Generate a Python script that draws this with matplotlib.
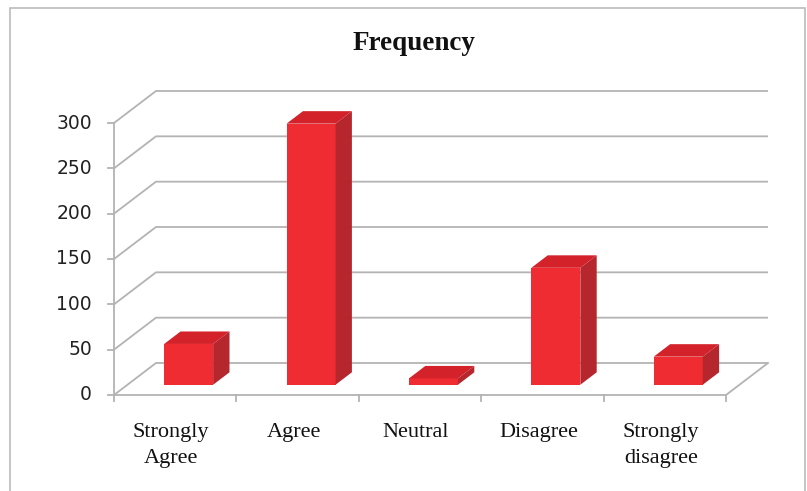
import matplotlib
matplotlib.use('Agg')
import matplotlib.pyplot as plt
from matplotlib.patches import Polygon, Rectangle

categories = ['Strongly\nAgree', 'Agree', 'Neutral', 'Disagree', 'Strongly\ndisagree']
frequency = [45, 288, 7, 129, 31]
y_ticks = [0, 50, 100, 150, 200, 250, 300]

W, H = 807, 491
# pixel scale of the oblique box
x0_px, y0_px = 114, 395          # front-left corner of the floor
cat_px = 122.4                   # width of one category
unit_px = 272 / 300.0            # pixels per value unit
DX = 42 / cat_px                 # depth shift, in category units
DY = 32 / unit_px                # depth shift, in value units

fig = plt.figure(figsize=(W / 100, H / 100), dpi=100)
ax = fig.add_axes([0, 0, 1, 1])
ax.set_xlim(-x0_px / cat_px, (W - x0_px) / cat_px)
ax.set_ylim(-(H - y0_px) / unit_px, y0_px / unit_px)
ax.axis('off')

grid_c = '#B3B3B3'
n = len(categories)

# walls and floor gridlines
for g in y_ticks:
    ax.plot([0, DX, n + DX], [g, g + DY, g + DY], color=grid_c, lw=1.3, solid_capstyle='butt')
ax.plot([0, n, n + DX], [0, 0, DY], color=grid_c, lw=1.3)
ax.plot([0, 0], [0, 300], color=grid_c, lw=1.3)

# tick marks
tx = 6 / cat_px
ty = 6 / unit_px
for g in y_ticks:
    ax.plot([-tx, 0], [g, g], color=grid_c, lw=1.3)
    ax.text(-22 / cat_px, g, str(g), ha='right', va='center', fontsize=13.5,
            family='DejaVu Sans', color='#222222')
for i in range(n + 1):
    ax.plot([i, i], [0, -ty], color=grid_c, lw=1.3)

# category labels
for i, lab in enumerate(categories):
    ax.text(i + 0.5 - 4 / cat_px, -28 / unit_px, lab, ha='center', va='top', fontsize=16,
            family='Liberation Serif', color='#111111', linespacing=1.48)

# 3D bars
front_c, top_c, side_c = '#EE2C31', '#D4222A', '#B6262D'
bw = 0.40
d0, d1 = 0.32, 0.71
dd = d1 - d0
for i, v in enumerate(frequency):
    bx = i + 0.5 - bw / 2 + d0 * DX
    by = d0 * DY
    ax.add_patch(Rectangle((bx, by), bw, v, facecolor=front_c, edgecolor='none', zorder=3))
    ax.add_patch(Polygon([(bx, by + v), (bx + bw, by + v),
                          (bx + bw + dd * DX, by + v + dd * DY), (bx + dd * DX, by + v + dd * DY)],
                         closed=True, facecolor=top_c, edgecolor='none', zorder=3))
    ax.add_patch(Polygon([(bx + bw, by), (bx + bw, by + v),
                          (bx + bw + dd * DX, by + v + dd * DY), (bx + bw + dd * DX, by + dd * DY)],
                         closed=True, facecolor=side_c, edgecolor='none', zorder=3))

fig.text(414 / W, 1 - 44 / H, 'Frequency', ha='center', va='center', fontsize=19.5,
         family='Liberation Serif', fontweight='bold', color='#111111')

# chart border
fig.patches.append(Rectangle((10 / W, -0.05), 795 / W, 1.05 - 8 / H, transform=fig.transFigure,
                             facecolor='none', edgecolor='#BBBBBB', lw=1.2))

fig.savefig('out.png', dpi=100)
